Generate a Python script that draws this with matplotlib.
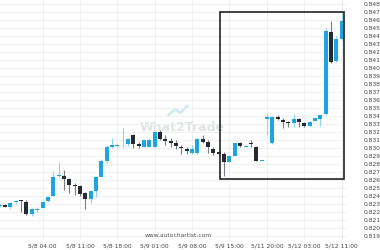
import matplotlib
matplotlib.use("Agg")
import matplotlib.pyplot as plt
from matplotlib.patches import Rectangle
import numpy as np

# hourly candles (index 0 = first, partially cut candle)
opens = [0.82275, 0.82288, 0.82263, 0.82321, 0.82344, 0.82329, 0.82172, 0.82225, 0.82254, 0.82338,
         0.82400, 0.82643, 0.82649, 0.82608, 0.82537, 0.82525, 0.82434, 0.82359, 0.82466, 0.82641,
         0.82840, 0.83015, 0.83024, 0.83021, 0.83048, 0.83161, 0.83045, 0.83015, 0.83015, 0.83015,
         0.83202, 0.83107, 0.83082, 0.83057, 0.83015, 0.82986, 0.82932, 0.82932, 0.83111, 0.83070,
         0.82986, 0.82945, 0.82920, 0.82828, 0.82902, 0.83057, 0.83015, 0.83057, 0.83015, 0.82840,
         0.83360, 0.83057, 0.83389, 0.83348, 0.83319, 0.83314, 0.83356, 0.83314, 0.83273, 0.83339,
         0.83356, 0.83422, 0.84449, 0.84087, 0.84354]
highs = [0.82300, 0.82300, 0.82313, 0.82350, 0.82354, 0.82350, 0.82244, 0.82267, 0.82338, 0.82400,
         0.82699, 0.82828, 0.82724, 0.82621, 0.82566, 0.82537, 0.82450, 0.82475, 0.82643, 0.82861,
         0.83036, 0.83119, 0.83061, 0.83242, 0.83117, 0.83173, 0.83077, 0.83104, 0.83119, 0.83208,
         0.83223, 0.83161, 0.83119, 0.83098, 0.83036, 0.83015, 0.83036, 0.83117, 0.83161, 0.83098,
         0.83015, 0.82974, 0.82952, 0.82911, 0.83065, 0.83077, 0.83036, 0.83098, 0.83024, 0.82840,
         0.83422, 0.83397, 0.83410, 0.83373, 0.83339, 0.83422, 0.83369, 0.83323, 0.83335, 0.83373,
         0.83416, 0.84491, 0.84586, 0.84395, 0.84698]
lows = [0.82263, 0.82257, 0.82238, 0.82300, 0.82204, 0.82169, 0.82154, 0.82204, 0.82250, 0.82331,
        0.82394, 0.82637, 0.82475, 0.82437, 0.82412, 0.82400, 0.82238, 0.82309, 0.82391, 0.82637,
        0.82811, 0.82999, 0.83017, 0.83015, 0.83024, 0.82995, 0.82995, 0.83011, 0.83011, 0.83011,
        0.83098, 0.83036, 0.83015, 0.82982, 0.82928, 0.82920, 0.82928, 0.82929, 0.83057, 0.82932,
        0.82911, 0.82911, 0.82649, 0.82820, 0.82899, 0.83015, 0.83011, 0.83015, 0.82836, 0.82840,
        0.83160, 0.83048, 0.83348, 0.83248, 0.83264, 0.83264, 0.83264, 0.83260, 0.83260, 0.83329,
        0.83273, 0.83410, 0.84055, 0.84075, 0.84345]
closes = [0.82288, 0.82267, 0.82309, 0.82341, 0.82338, 0.82172, 0.82238, 0.82238, 0.82329, 0.82391,
          0.82637, 0.82656, 0.82612, 0.82537, 0.82525, 0.82425, 0.82359, 0.82466, 0.82633, 0.82840,
          0.83007, 0.83032, 0.83032, 0.83026, 0.83111, 0.83048, 0.83024, 0.83098, 0.83098, 0.83202,
          0.83107, 0.83089, 0.83064, 0.83024, 0.82995, 0.82965, 0.82986, 0.83111, 0.83070, 0.83015,
          0.82932, 0.82920, 0.82828, 0.82902, 0.83057, 0.83027, 0.83027, 0.83051, 0.82840, 0.82840,
          0.83385, 0.83381, 0.83356, 0.83326, 0.83310, 0.83356, 0.83319, 0.83273, 0.83326, 0.83369,
          0.83410, 0.84461, 0.84075, 0.84354, 0.84586]

tick_idx = [8, 15, 22, 29, 36, 43, 50, 57, 64]
tick_labels = ["5/8 04:00", "5/8 11:00", "5/8 18:00", "5/9 01:00", "5/9 08:00",
               "5/9 15:00", "5/11 20:00", "5/12 03:00", "5/12 11:00"]
y_ticks = [round(0.819 + 0.001 * k, 3) for k in range(30)]

# pattern box (index range, price range)
box_start, box_end = 41.3, 64.5
box_lo, box_hi = 0.8261, 0.8469

BULL = "#1ea5e0"
BULL_WICK = "#8fd3f2"
BEAR = "#262a33"
BEAR_WICK = "#7a7d84"

fig = plt.figure(figsize=(3.8, 2.5), dpi=100)
ax = fig.add_axes([0, 10 / 250, 347 / 380, 240 / 250])

o = np.array(opens)
h = np.array(highs)
l = np.array(lows)
c = np.array(closes)
x = np.arange(len(o))
up = c >= o

ax.vlines(x[up], l[up], h[up], color=BULL_WICK, lw=0.8, zorder=2)
ax.vlines(x[~up], l[~up], h[~up], color=BEAR_WICK, lw=0.8, zorder=2)
body = np.maximum(np.abs(c - o), 0.00004)
ax.bar(x[up], body[up], bottom=np.minimum(o, c)[up], width=0.75, color=BULL, lw=0, zorder=3)
ax.bar(x[~up], body[~up], bottom=np.minimum(o, c)[~up], width=0.75, color=BEAR, lw=0, zorder=3)

ax.add_patch(Rectangle((box_start, box_lo), box_end - box_start, box_hi - box_lo,
                       fill=False, ec="#222222", lw=1.2, zorder=4))

ax.axvline(tick_idx[-1], color="#888888", lw=0.6, ls=(0, (1, 1)), zorder=1)

ax.set_xlim(0.04, 65.0)
ax.set_ylim(0.81851, 0.84844)
ax.set_xticks(tick_idx)
ax.set_xticklabels(tick_labels)
ax.set_yticks(y_ticks)
ax.set_yticklabels([f"{v:.3f}" for v in y_ticks])
ax.yaxis.tick_right()
ax.tick_params(axis="both", length=0, labelsize=4.3, colors="#444444")
ax.tick_params(axis="y", pad=12)
ax.tick_params(axis="x", pad=2.5)
ax.grid(True, color="#eeeeee", lw=0.6, zorder=0)
for s in ax.spines.values():
    s.set_visible(False)

# watermark logo
ax.plot([0.485, 0.505, 0.52, 0.54], [0.52, 0.545, 0.53, 0.56], transform=ax.transAxes,
        color="#cfe9f6", lw=2, solid_capstyle="round", zorder=1)
ax.text(0.525, 0.47, "What2Trade", transform=ax.transAxes, ha="center", va="center",
        fontsize=9, fontweight="bold", color="#e1e4e7", zorder=1)
ax.text(0.418, 0.02, "www.autochartist.com", transform=ax.transAxes, ha="left", va="center",
        fontsize=4.3, color="#555555", zorder=5)

fig.savefig("out.png", dpi=100)
